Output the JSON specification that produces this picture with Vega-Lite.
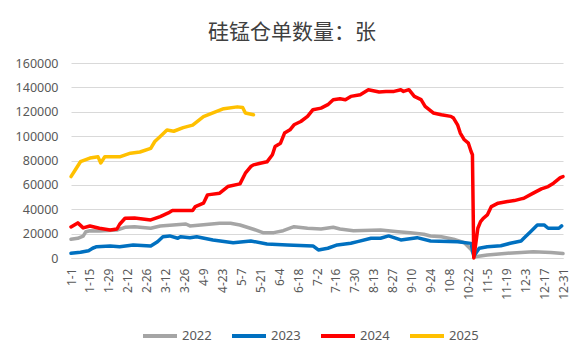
{
  "$schema": "https://vega.github.io/schema/vega-lite/v6.json",
  "width": 492,
  "height": 195,
  "autosize": {"type": "none"},
  "padding": {"left": 71, "top": 63, "right": 19, "bottom": 94},
  "background": "white",
  "title": {
    "text": "硅锰仓单数量：张",
    "font": "Noto Sans CJK SC",
    "fontSize": 21,
    "fontWeight": "normal",
    "color": "#404040",
    "anchor": "middle",
    "frame": "bounds",
    "offset": 14
  },
  "config": {
    "view": {"stroke": null},
    "font": "Noto Sans"
  },
  "data": {
    "values": [
      {"s":"2022","d":0,"v":15400},{"s":"2022","d":5,"v":16200},{"s":"2022","d":9,"v":18000},{"s":"2022","d":11,"v":21600},{"s":"2022","d":14,"v":22400},{"s":"2022","d":21,"v":22200},{"s":"2022","d":34,"v":23000},{"s":"2022","d":40,"v":25200},{"s":"2022","d":47,"v":25700},{"s":"2022","d":59,"v":24400},{"s":"2022","d":66,"v":26300},{"s":"2022","d":85,"v":27900},{"s":"2022","d":88,"v":26300},{"s":"2022","d":96,"v":27100},{"s":"2022","d":110,"v":28500},{"s":"2022","d":118,"v":28500},{"s":"2022","d":125,"v":27100},{"s":"2022","d":135,"v":23600},{"s":"2022","d":142,"v":20800},{"s":"2022","d":150,"v":20800},{"s":"2022","d":157,"v":22400},{"s":"2022","d":165,"v":25700},{"s":"2022","d":175,"v":24400},{"s":"2022","d":185,"v":23800},{"s":"2022","d":194,"v":25200},{"s":"2022","d":199,"v":23800},{"s":"2022","d":209,"v":22400},{"s":"2022","d":229,"v":23000},{"s":"2022","d":242,"v":21600},{"s":"2022","d":251,"v":20800},{"s":"2022","d":261,"v":19500},{"s":"2022","d":266,"v":18100},{"s":"2022","d":274,"v":17500},{"s":"2022","d":283,"v":15400},{"s":"2022","d":291,"v":12500},{"s":"2022","d":296,"v":7000},{"s":"2022","d":299,"v":1000},{"s":"2022","d":308,"v":2500},{"s":"2022","d":323,"v":3900},{"s":"2022","d":333,"v":4500},{"s":"2022","d":342,"v":5200},{"s":"2022","d":355,"v":4600},{"s":"2022","d":364,"v":3600},
      {"s":"2023","d":0,"v":3900},{"s":"2023","d":7,"v":4700},{"s":"2023","d":13,"v":6000},{"s":"2023","d":16,"v":8000},{"s":"2023","d":19,"v":9300},{"s":"2023","d":29,"v":9900},{"s":"2023","d":36,"v":9300},{"s":"2023","d":46,"v":10700},{"s":"2023","d":59,"v":9900},{"s":"2023","d":64,"v":13400},{"s":"2023","d":68,"v":17500},{"s":"2023","d":73,"v":18100},{"s":"2023","d":79,"v":16200},{"s":"2023","d":81,"v":17500},{"s":"2023","d":88,"v":16700},{"s":"2023","d":93,"v":17500},{"s":"2023","d":105,"v":14800},{"s":"2023","d":120,"v":12600},{"s":"2023","d":133,"v":14000},{"s":"2023","d":145,"v":11500},{"s":"2023","d":160,"v":10700},{"s":"2023","d":179,"v":9900},{"s":"2023","d":183,"v":6600},{"s":"2023","d":190,"v":8000},{"s":"2023","d":197,"v":10700},{"s":"2023","d":207,"v":12100},{"s":"2023","d":212,"v":13400},{"s":"2023","d":222,"v":16200},{"s":"2023","d":229,"v":16200},{"s":"2023","d":235,"v":18100},{"s":"2023","d":244,"v":14800},{"s":"2023","d":256,"v":16700},{"s":"2023","d":266,"v":14000},{"s":"2023","d":286,"v":13400},{"s":"2023","d":296,"v":12000},{"s":"2023","d":298,"v":1500},{"s":"2023","d":302,"v":8000},{"s":"2023","d":308,"v":9300},{"s":"2023","d":318,"v":10100},{"s":"2023","d":325,"v":12100},{"s":"2023","d":333,"v":14000},{"s":"2023","d":335,"v":16200},{"s":"2023","d":340,"v":21600},{"s":"2023","d":345,"v":27100},{"s":"2023","d":350,"v":27100},{"s":"2023","d":353,"v":24400},{"s":"2023","d":361,"v":24400},{"s":"2023","d":363,"v":26300},
      {"s":"2024","d":0,"v":25500},{"s":"2024","d":5,"v":28800},{"s":"2024","d":9,"v":24700},{"s":"2024","d":14,"v":26300},{"s":"2024","d":21,"v":24400},{"s":"2024","d":29,"v":23000},{"s":"2024","d":34,"v":23800},{"s":"2024","d":36,"v":27700},{"s":"2024","d":40,"v":32600},{"s":"2024","d":47,"v":32900},{"s":"2024","d":59,"v":31200},{"s":"2024","d":66,"v":34000},{"s":"2024","d":72,"v":37000},{"s":"2024","d":75,"v":38900},{"s":"2024","d":90,"v":39000},{"s":"2024","d":92,"v":42200},{"s":"2024","d":98,"v":45000},{"s":"2024","d":101,"v":51800},{"s":"2024","d":110,"v":53200},{"s":"2024","d":116,"v":58600},{"s":"2024","d":125,"v":60800},{"s":"2024","d":129,"v":69600},{"s":"2024","d":133,"v":75000},{"s":"2024","d":135,"v":76400},{"s":"2024","d":140,"v":77800},{"s":"2024","d":145,"v":78900},{"s":"2024","d":149,"v":84700},{"s":"2024","d":151,"v":91500},{"s":"2024","d":155,"v":94200},{"s":"2024","d":158,"v":102500},{"s":"2024","d":162,"v":105200},{"s":"2024","d":165,"v":109300},{"s":"2024","d":170,"v":112000},{"s":"2024","d":175,"v":116200},{"s":"2024","d":179,"v":121700},{"s":"2024","d":185,"v":123000},{"s":"2024","d":190,"v":125800},{"s":"2024","d":194,"v":129900},{"s":"2024","d":199,"v":130700},{"s":"2024","d":203,"v":129900},{"s":"2024","d":207,"v":132600},{"s":"2024","d":214,"v":134000},{"s":"2024","d":220,"v":138100},{"s":"2024","d":228,"v":136200},{"s":"2024","d":233,"v":136700},{"s":"2024","d":239,"v":136700},{"s":"2024","d":244,"v":138100},{"s":"2024","d":246,"v":136700},{"s":"2024","d":250,"v":138100},{"s":"2024","d":254,"v":132600},{"s":"2024","d":259,"v":129900},{"s":"2024","d":262,"v":124400},{"s":"2024","d":268,"v":119000},{"s":"2024","d":274,"v":117500},{"s":"2024","d":281,"v":116200},{"s":"2024","d":283,"v":114800},{"s":"2024","d":286,"v":109300},{"s":"2024","d":288,"v":102500},{"s":"2024","d":291,"v":97000},{"s":"2024","d":294,"v":94200},{"s":"2024","d":296,"v":87400},{"s":"2024","d":297,"v":84700},{"s":"2024","d":298,"v":0},{"s":"2024","d":301,"v":24400},{"s":"2024","d":303,"v":29900},{"s":"2024","d":305,"v":32600},{"s":"2024","d":308,"v":35300},{"s":"2024","d":311,"v":42200},{"s":"2024","d":316,"v":45000},{"s":"2024","d":323,"v":46300},{"s":"2024","d":328,"v":47100},{"s":"2024","d":333,"v":48500},{"s":"2024","d":335,"v":49000},{"s":"2024","d":342,"v":53200},{"s":"2024","d":348,"v":56700},{"s":"2024","d":353,"v":58600},{"s":"2024","d":357,"v":61400},{"s":"2024","d":362,"v":66000},{"s":"2024","d":364,"v":66800},
      {"s":"2025","d":0,"v":66800},{"s":"2025","d":3,"v":72000},{"s":"2025","d":7,"v":79000},{"s":"2025","d":14,"v":82000},{"s":"2025","d":20,"v":83000},{"s":"2025","d":22,"v":78000},{"s":"2025","d":25,"v":83000},{"s":"2025","d":36,"v":83000},{"s":"2025","d":44,"v":86000},{"s":"2025","d":51,"v":87000},{"s":"2025","d":59,"v":90000},{"s":"2025","d":62,"v":95600},{"s":"2025","d":66,"v":99700},{"s":"2025","d":71,"v":105000},{"s":"2025","d":76,"v":104000},{"s":"2025","d":83,"v":107000},{"s":"2025","d":90,"v":109000},{"s":"2025","d":98,"v":116000},{"s":"2025","d":105,"v":119000},{"s":"2025","d":113,"v":122500},{"s":"2025","d":123,"v":124000},{"s":"2025","d":127,"v":123500},{"s":"2025","d":129,"v":119000},{"s":"2025","d":135,"v":117500}
    ]
  },
  "mark": {"type": "line", "strokeWidth": 3.5, "strokeJoin": "round", "strokeCap": "round"},
  "encoding": {
    "x": {
      "field": "d",
      "type": "quantitative",
      "scale": {"domain": [0, 364], "nice": false, "zero": false},
      "axis": {
        "title": null,
        "values": [0,14,28,42,56,70,84,98,112,126,140,154,168,182,196,210,224,238,252,266,280,294,308,322,336,350,364],
        "labelExpr": "timeFormat(datetime(2023, 0, 1 + datum.value), '%-m-%-d')",
        "labelAngle": -90,
        "labelFontSize": 12,
        "labelColor": "#595959",
        "labelPadding": 10,
        "ticks": false,
        "grid": false,
        "domainColor": "#D9D9D9",
        "domainWidth": 1,
        "labelOverlap": false
      }
    },
    "y": {
      "field": "v",
      "type": "quantitative",
      "scale": {"domain": [0, 160000], "nice": false},
      "axis": {
        "title": null,
        "values": [0,20000,40000,60000,80000,100000,120000,140000,160000],
        "format": "d",
        "labelFontSize": 12.5,
        "labelColor": "#595959",
        "labelPadding": 13,
        "ticks": false,
        "domain": false,
        "gridColor": "#D9D9D9",
        "gridWidth": 1
      }
    },
    "color": {
      "field": "s",
      "type": "nominal",
      "scale": {"domain": ["2022","2023","2024","2025"], "range": ["#A5A5A5","#0070C0","#FF0000","#FFC000"]},
      "legend": {
        "title": null,
        "orient": "none",
        "legendX": 70,
        "legendY": 254,
        "direction": "horizontal",
        "symbolType": "stroke",
        "symbolSize": 1156,
        "symbolStrokeWidth": 4,
        "labelFontSize": 13,
        "labelColor": "#595959",
        "labelOffset": 3,
        "columnPadding": 12
      }
    }
  }
}
